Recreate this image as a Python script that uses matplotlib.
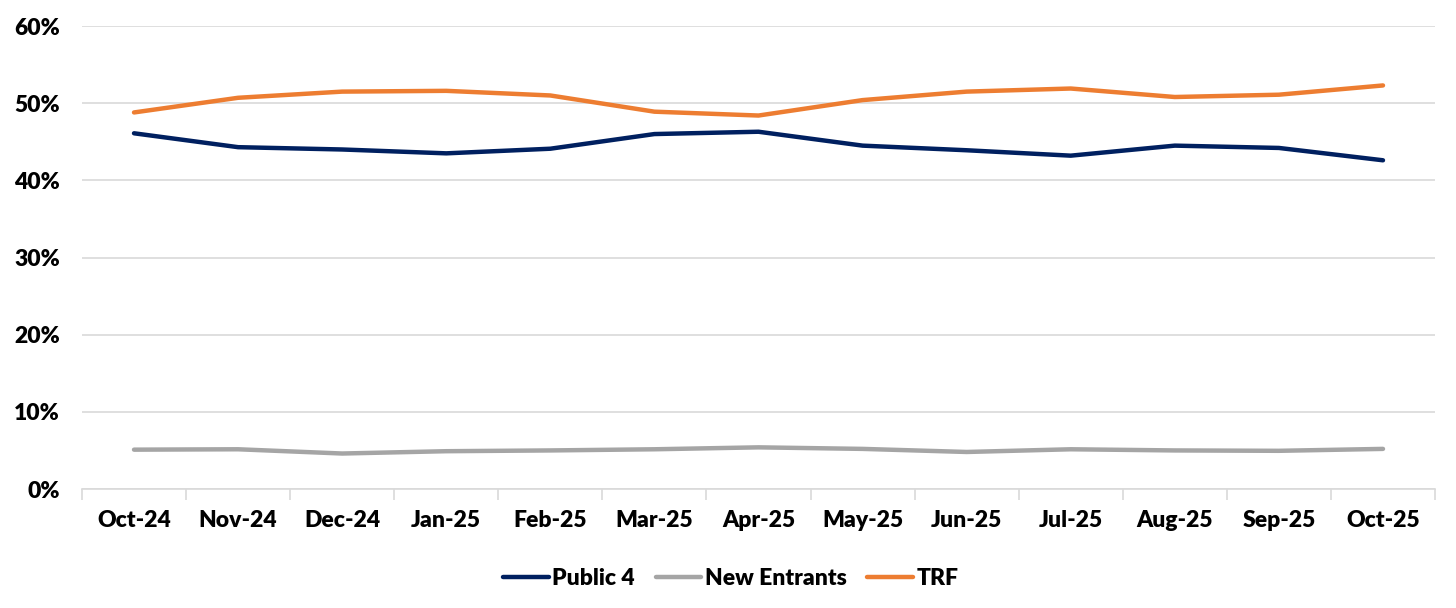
import matplotlib
matplotlib.use("Agg")
import matplotlib.pyplot as plt
from matplotlib.ticker import PercentFormatter, FixedLocator

# values (fractions)
months = ["Oct-24", "Nov-24", "Dec-24", "Jan-25", "Feb-25", "Mar-25", "Apr-25",
          "May-25", "Jun-25", "Jul-25", "Aug-25", "Sep-25", "Oct-25"]
public4 = [0.461, 0.443, 0.440, 0.435, 0.441, 0.460, 0.463,
           0.445, 0.439, 0.432, 0.445, 0.442, 0.426]
new_entrants = [0.051, 0.0515, 0.046, 0.049, 0.050, 0.0515, 0.054,
                0.052, 0.048, 0.0515, 0.050, 0.0495, 0.052]
trf = [0.488, 0.507, 0.515, 0.516, 0.510, 0.489, 0.484,
       0.504, 0.515, 0.519, 0.508, 0.511, 0.523]

plt.rcParams['font.family'] = ['Lato', 'DejaVu Sans']
plt.rcParams['font.weight'] = 'heavy'

fig = plt.figure(figsize=(14.56, 6.08), dpi=100)
ax = fig.add_axes([0.0563, 0.1957, 0.9293, 0.7615])

x = list(range(len(months)))
ax.plot(x, public4, color='#002060', lw=3.2, label='Public 4', solid_capstyle='round')
ax.plot(x, new_entrants, color='#A5A5A5', lw=3.2, label='New Entrants', solid_capstyle='round')
ax.plot(x, trf, color='#ED7D31', lw=3.2, label='TRF', solid_capstyle='round')

ax.set_xlim(-0.5, len(months) - 0.5)
ax.set_ylim(0, 0.6)
ax.set_yticks([0, 0.1, 0.2, 0.3, 0.4, 0.5, 0.6])
ax.yaxis.set_major_formatter(PercentFormatter(1.0, decimals=0))
ax.grid(axis='y', color='#D9D9D9', lw=1.2)
ax.set_axisbelow(True)

ax.set_xticks(x)
ax.set_xticklabels(months)
ax.xaxis.set_minor_locator(FixedLocator([i - 0.5 for i in range(len(months) + 1)]))
ax.tick_params(axis='x', which='major', length=0, pad=15, labelsize=16.5)
ax.tick_params(axis='x', which='minor', length=8, color='#D9D9D9', width=1.2)
ax.tick_params(axis='y', length=0, pad=16, labelsize=16.5)

for side in ['left', 'right', 'top']:
    ax.spines[side].set_visible(False)
ax.spines['bottom'].set_color('#D9D9D9')
ax.spines['bottom'].set_linewidth(1.2)

# legend centred on the figure, below the month labels
handles, labels = ax.get_legend_handles_labels()
fig.legend(handles, labels, loc='upper center', bbox_to_anchor=(0.502, 0.1), ncol=3,
           frameon=False, fontsize=16.5, handlelength=2.0, handletextpad=0.15,
           columnspacing=0.9)

fig.savefig("out.png", dpi=100)
